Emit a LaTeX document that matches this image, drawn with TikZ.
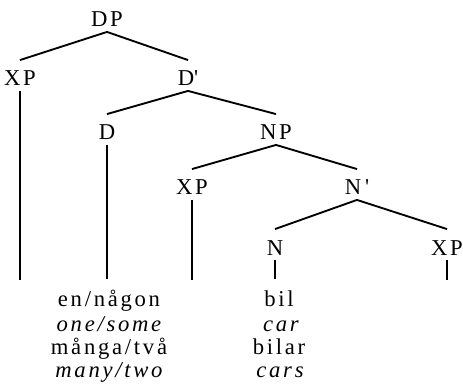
\documentclass[tikz,border=0pt]{standalone}
\usepackage{fontspec}
\setmainfont{Liberation Serif}[LetterSpace=12]
\newcommand\treefont{\fontsize{17}{18}\selectfont}

\tikzset{every picture/.style={line width=1.4pt}}
\tikzset{
	cat/.style={inner sep=0pt, anchor=base, text height=18.75pt, text depth=3pt},
	leaf/.style={inner sep=0pt, anchor=base, text height=19.5pt},
	gloss/.style={inner sep=0pt, anchor=base, font=\treefont\itshape}
}

\begin{document}
\begin{tikzpicture}[x=0.75pt,y=0.75pt,yscale=-1,xscale=1,font=\treefont]
	\useasboundingbox (0,0) rectangle (463,388);

	% Text Node
	\node[cat] (dp) at (107,27) {DP};
	% Text Node
	\node[cat] (xpa) at (20,86) {XP};
	% Text Node
	\node[cat] (dbar) at (188,86) {D\textquotesingle};
	% Text Node
	\node[cat] (d) at (107,140) {D};
	% Text Node
	\node[cat] (np) at (276,140) {NP};
	% Text Node
	\node[cat] (xpb) at (192,195) {XP};
	% Text Node
	\node[cat] (nbar) at (357,195) {N\,\textquotesingle};
	% Text Node
	\node[cat] (n) at (275,255) {N};
	% Text Node
	\node[cat] (xpc) at (447,255) {XP};

	% Text Node
	\node[leaf] (enngon) at (109,306) {en/någon};
	\node[gloss] (onesome) at (109,331) {one/some};
	\node[leaf] (mangatva) at (109,354) {många/två};
	\node[gloss] (manytwo) at (109,377) {many/two};
	% Text Node
	\node[leaf] (bil) at (279,306) {bil};
	\node[gloss] (car) at (281,331) {car};
	\node[leaf] (bilar) at (279,354) {bilar};
	\node[gloss] (cars) at (280,377) {cars};

	\coordinate (bottom) at (0,280);

	%Straight Lines
	\draw (dp.south) -- (xpa.north);
	\draw (dp.south) -- (dbar.north);
	\draw (dbar.south) -- (d.north);
	\draw (dbar.south) -- (np.north);
	\draw (np.south) -- (xpb.north);
	\draw (np.south) -- (nbar.north);
	\draw (nbar.south) -- (n.north);
	\draw (nbar.south) -- (xpc.north);
	%Straight Lines
	\draw (xpa.south) -- (xpa.south |- bottom);
	\draw (d.south) -- (d.south |- enngon.north);
	\draw (xpb.south) -- (xpb.south |- bottom);
	\draw (n.south) -- (n.south |- bil.north);
	\draw (xpc.south) -- (xpc.south |- bottom);

\end{tikzpicture}
\end{document}
